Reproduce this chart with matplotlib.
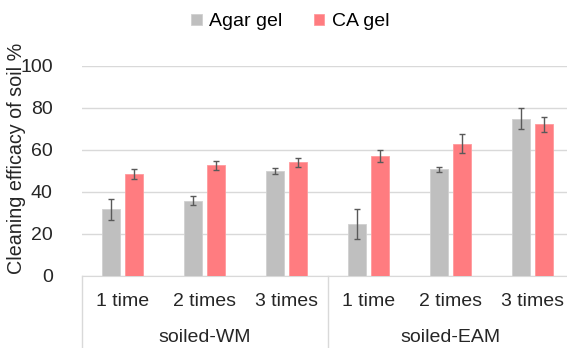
import matplotlib
matplotlib.use('Agg')
import matplotlib.pyplot as plt
import numpy as np

categories = ['1 time', '2 times', '3 times', '1 time', '2 times', '3 times']
groups = ['soiled-WM', 'soiled-EAM']
agar = [31.7, 35.9, 50.0, 24.6, 50.8, 74.9]
agar_err = [5.0, 2.0, 1.2, 7.2, 1.1, 5.0]
ca = [48.7, 52.7, 54.1, 57.1, 63.0, 72.2]
ca_err = [2.4, 2.2, 2.0, 2.9, 4.4, 3.4]

plt.rcParams['font.family'] = ['Liberation Sans', 'DejaVu Sans']

fig = plt.figure(figsize=(5.67, 3.48), dpi=100)
# axes run a little past the right edge of the picture, as in the original crop
ax = fig.add_axes([82/567, 1-276/348, (573-82)/567, (276-66)/348])

x = np.arange(len(categories))
w = 0.22
ax.bar(x - 0.14, agar, w, color='#BFBFBF', edgecolor='#D0D0D0', linewidth=0.6,
       yerr=agar_err, error_kw=dict(ecolor='#595959', elinewidth=1, capsize=2.5, capthick=1),
       label='Agar gel', zorder=3)
ax.bar(x + 0.14, ca, w, color='#FF7C80', edgecolor='#FF9A9D', linewidth=0.6,
       yerr=ca_err, error_kw=dict(ecolor='#595959', elinewidth=1, capsize=2.5, capthick=1),
       label='CA gel', zorder=3)

ax.set_xlim(-0.5, 5.5)
ax.set_ylim(0, 100)
ax.set_yticks([0, 20, 40, 60, 80, 100])
ax.yaxis.grid(True, color='#D9D9D9', linewidth=1)
ax.set_axisbelow(True)
for s in ['top', 'right', 'left']:
    ax.spines[s].set_visible(False)
ax.spines['bottom'].set_color('#D9D9D9')
ax.tick_params(axis='y', length=0, labelsize=14, colors='#262626', pad=21)
ax.set_xticks([])
ax.set_ylabel('Cleaning efficacy of soil %', fontsize=14.2, color='#262626')
ax.yaxis.set_label_coords((26-82)/491, (276-158)/210)

# two-level category axis
for i, c in enumerate(categories):
    ax.text(i, -12, c, ha='center', va='center', fontsize=14, color='#262626')
for j, g in enumerate(groups):
    ax.text(3*j + 1, -29.5, g, ha='center', va='center', fontsize=14, color='#262626')
for xv in [-0.5, 2.5, 5.5]:
    ax.plot([xv, xv], [0, -34], color='#D9D9D9', linewidth=1, clip_on=False)

fig.legend(*ax.get_legend_handles_labels(), loc='center', bbox_to_anchor=(0.512, 1-22/348),
           ncol=2, frameon=False, fontsize=14, handlelength=0.55, handleheight=0.55,
           columnspacing=1.6, handletextpad=0.4)

fig.savefig('out.png', dpi=100)
